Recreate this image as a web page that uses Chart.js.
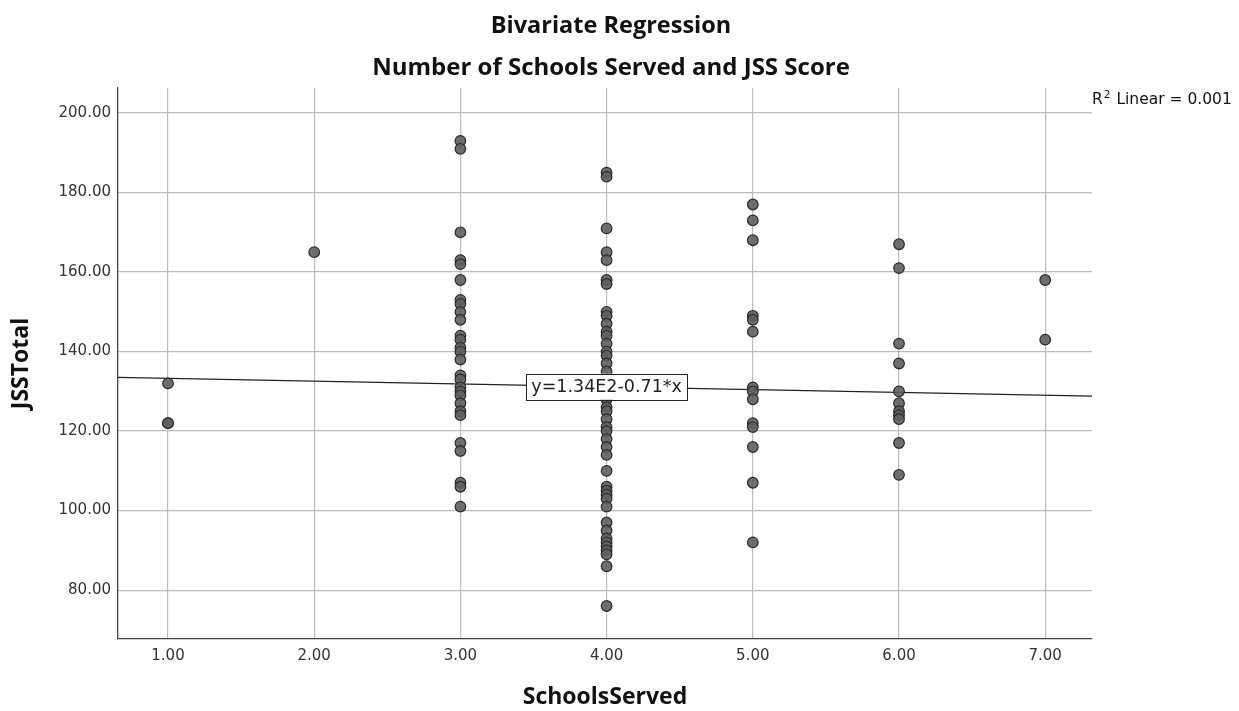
<!DOCTYPE html>
<html lang="en">
<head>
<meta charset="UTF-8">
<title>Bivariate Regression</title>
<script src="https://cdn.jsdelivr.net/npm/chart.js"></script>
<style>
  body { margin: 0; background: #fff; }
  canvas { display: block; }
</style>
</head>
<body>
<canvas id="chart" width="1239" height="711"></canvas>
<script>
// values, grouped by SchoolsServed
const schoolsServed = [1, 2, 3, 4, 5, 6, 7];
const jssByGroup = [
  [132, 122, 122],
  [165],
  [193, 191, 170, 163, 162, 158, 153, 152, 150, 148, 144, 143, 141, 140, 138,
   134, 133, 131, 130, 129, 127, 125, 124, 117, 115, 107, 106, 101],
  [185, 184, 171, 165, 163, 158, 157, 150, 149, 147, 145, 144, 142, 140, 139, 137,
   135, 133, 131, 130, 128, 126, 125, 123, 121, 120, 118, 116, 114, 110,
   106, 105, 104, 103, 101, 97, 95, 93, 92, 91, 90, 89, 86, 76],
  [177, 173, 168, 149, 148, 145, 131, 130, 128, 122, 121, 116, 107, 92],
  [167, 161, 142, 137, 130, 127, 125, 124, 123, 117, 109],
  [158, 143]
];
const xTicks = [1, 2, 3, 4, 5, 6, 7];
const yTicks = [80, 100, 120, 140, 160, 180, 200];
const fitIntercept = 134;
const fitSlope = -0.71;
const fitLabel = 'y=1.34E2-0.71*x';
const r2Text = '0.001';

const xMin = 0.658, xMax = 7.32;
const yMin = 67.7, yMax = 206.3;

const points = [];
schoolsServed.forEach((s, i) => {
  jssByGroup[i].forEach(v => points.push({ x: s, y: v }));
});
const fitLine = [xMin, xMax].map(x => ({ x, y: fitIntercept + fitSlope * x }));

const tickFont = { family: 'DejaVu Sans', size: 15 };

const overlay = {
  id: 'overlay',
  afterDraw(chart) {
    const ctx = chart.ctx;
    const xs = chart.scales.x, ys = chart.scales.y;
    ctx.save();
    // titles
    ctx.fillStyle = '#111';
    ctx.textAlign = 'center';
    ctx.textBaseline = 'middle';
    ctx.font = 'bold 23.5px "Open Sans"';
    ctx.fillText('Bivariate Regression', 611, 26);
    ctx.font = 'bold 24px "Open Sans"';
    ctx.fillText('Number of Schools Served and JSS Score', 611, 68);

    // R² label
    ctx.textAlign = 'left';
    ctx.textBaseline = 'alphabetic';
    ctx.font = '15.5px "DejaVu Sans"';
    let x0 = 1092, y0 = 104;
    ctx.fillText('R', x0, y0);
    let w = ctx.measureText('R').width;
    ctx.font = '10.5px "DejaVu Sans"';
    ctx.fillText('2', x0 + w + 1, y0 - 6);
    let w2 = ctx.measureText('2').width;
    ctx.font = '15.5px "DejaVu Sans"';
    ctx.fillText(' Linear = ' + r2Text, x0 + w + w2 + 2, y0);

    // equation box on the fit line at x = 4
    const px = xs.getPixelForValue(4);
    const py = ys.getPixelForValue(fitIntercept + fitSlope * 4);
    ctx.textBaseline = 'middle';
    ctx.font = '17.5px "DejaVu Sans"';
    const tw = ctx.measureText(fitLabel).width;
    const bw = tw + 10, bh = 26;
    ctx.fillStyle = '#fff';
    ctx.fillRect(px - bw / 2, py - bh / 2, bw, bh);
    ctx.strokeStyle = '#222';
    ctx.lineWidth = 1;
    ctx.strokeRect(Math.round(px - bw / 2) + 0.5, Math.round(py - bh / 2) + 0.5, Math.round(bw), bh);
    ctx.fillStyle = '#222';
    ctx.textAlign = 'center';
    ctx.fillText(fitLabel, px, py + 1);
    ctx.restore();
  }
};

new Chart(document.getElementById('chart'), {
  type: 'scatter',
  data: {
    datasets: [
      {
        type: 'line',
        data: fitLine,
        borderColor: '#222',
        borderWidth: 1.2,
        pointRadius: 0,
        fill: false,
        order: 2
      },
      {
        data: points,
        backgroundColor: 'rgba(95,95,95,0.9)',
        borderColor: '#2a2a2a',
        borderWidth: 1.2,
        pointRadius: 5.3,
        order: 1
      }
    ]
  },
  options: {
    responsive: false,
    animation: false,
    layout: { padding: { top: 88, right: 147, left: 0, bottom: 0 } },
    plugins: {
      legend: { display: false },
      tooltip: { enabled: false },
      title: { display: false }
    },
    scales: {
      x: {
        type: 'linear',
        min: xMin,
        max: xMax,
        afterBuildTicks: s => { s.ticks = xTicks.map(v => ({ value: v })); },
        afterFit: s => { s.height = 72; },
        ticks: {
          font: tickFont,
          color: '#333',
          padding: 8,
          callback: v => v.toFixed(2)
        },
        grid: { color: '#bbbbbb', lineWidth: 1.2, drawTicks: false },
        border: { color: '#444', width: 1.3 },
        title: {
          display: true,
          text: 'SchoolsServed',
          font: { family: 'Open Sans', size: 23, weight: 'bold' },
          color: '#111',
          padding: { top: 0, bottom: 0 }
        }
      },
      y: {
        min: yMin,
        max: yMax,
        afterBuildTicks: s => { s.ticks = yTicks.map(v => ({ value: v })); },
        afterFit: s => { s.width = 118; },
        ticks: {
          font: tickFont,
          color: '#333',
          padding: 7,
          callback: v => v.toFixed(2)
        },
        grid: { color: '#bbbbbb', lineWidth: 1.2, drawTicks: false },
        border: { color: '#444', width: 1.3 },
        title: {
          display: true,
          text: 'JSSTotal',
          font: { family: 'Open Sans', size: 23, weight: 'bold' },
          color: '#111',
          padding: { top: 8, bottom: 0 }
        }
      }
    }
  },
  plugins: [overlay]
});
</script>
</body>
</html>
